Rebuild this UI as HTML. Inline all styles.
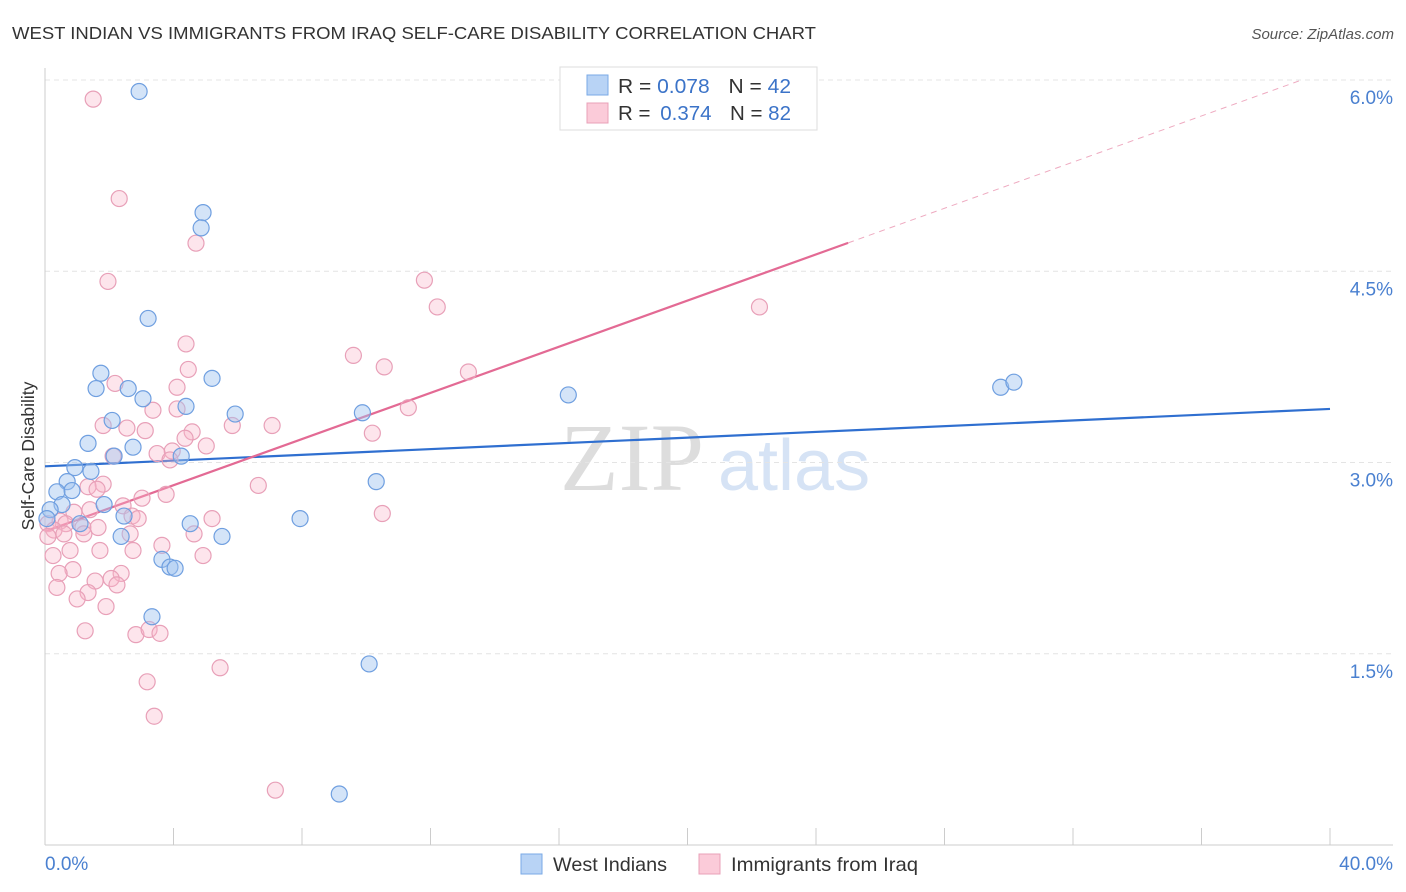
<!DOCTYPE html>
<html><head><meta charset="utf-8"><style>
body{margin:0;background:#fff;font-family:"Liberation Sans",sans-serif;}
svg{display:block}
</style></head><body>
<svg id="chart" width="1406" height="892">
<text x="12" y="39" font-size="17.5" fill="#333" textLength="804" lengthAdjust="spacingAndGlyphs">WEST INDIAN VS IMMIGRANTS FROM IRAQ SELF-CARE DISABILITY CORRELATION CHART</text>
<text x="1394" y="39" font-size="15" fill="#555" font-style="italic" text-anchor="end">Source: ZipAtlas.com</text>
<text x="560" y="490" font-size="96" fill="#ddd" font-family="Liberation Serif,serif">ZIP</text>
<text x="718" y="490" font-size="72" fill="#d6e3f5">atlas</text>
<g id="grid"></g><g id="axes"></g><g id="trend"></g><g id="pts"></g>
<text transform="translate(34,456) rotate(-90)" font-size="17.5" fill="#333" text-anchor="middle">Self-Care Disability</text>
<g>
<rect x="560" y="67" width="257" height="63" fill="#fff" stroke="#ddd"/>
<rect x="587" y="75" width="21" height="20" fill="#b8d3f5" stroke="#7aa9e6"/>
<rect x="587" y="103" width="21" height="20" fill="#fbcbd9" stroke="#e8a0b8"/>
<text x="618" y="93" font-size="20" fill="#333" textLength="173" lengthAdjust="spacingAndGlyphs">R = <tspan fill="#3b73c8">0.078</tspan><tspan dx="18">N = </tspan><tspan fill="#3b73c8">42</tspan></text>
<text x="618" y="120" font-size="20" fill="#333" textLength="173" lengthAdjust="spacingAndGlyphs">R = <tspan fill="#3b73c8" dx="4">0.374</tspan><tspan dx="18">N = </tspan><tspan fill="#3b73c8">82</tspan></text>
</g>
<g>
<rect x="521" y="854" width="21" height="20" fill="#b8d3f5" stroke="#7aa9e6"/>
<text x="553" y="871" font-size="19.5" fill="#333" textLength="114" lengthAdjust="spacingAndGlyphs">West Indians</text>
<rect x="699" y="854" width="21" height="20" fill="#fbcbd9" stroke="#e8a0b8"/>
<text x="731" y="871" font-size="19.5" fill="#333" textLength="187" lengthAdjust="spacingAndGlyphs">Immigrants from Iraq</text>
</g>
</svg>
<script>
const yTicks=[1.5,3.0,4.5,6.0];
const yTickLabels=["1.5%","3.0%","4.5%","6.0%"];
const xTickCount=10;
const blueX=[2.93,4.92,4.86,3.21,1.74,5.20,1.59,2.59,3.05,4.39,5.92,2.09,1.34,2.74,2.15,4.24,0.93,1.43,0.69,0.84,0.37,0.53,1.84,0.16,0.06,2.46,1.09,4.52,2.37,5.51,3.64,3.89,4.05,3.33,9.88,10.31,7.94,10.09,9.16,16.29,29.75,30.16];
const blueY=[5.91,4.96,4.84,4.13,3.70,3.66,3.58,3.58,3.50,3.44,3.38,3.33,3.15,3.12,3.05,3.05,2.96,2.93,2.85,2.78,2.77,2.67,2.67,2.63,2.56,2.58,2.52,2.52,2.42,2.42,2.24,2.18,2.17,1.79,3.39,2.85,2.56,1.42,0.40,3.53,3.59,3.63];
const pinkX=[1.50,2.31,4.70,1.96,11.81,12.21,22.24,4.39,9.60,10.56,4.46,13.18,2.18,4.11,11.31,3.36,4.11,1.81,5.83,7.07,2.55,3.12,4.58,10.19,4.36,5.02,3.96,3.49,2.12,3.89,6.64,1.81,1.34,1.62,3.77,3.02,2.43,1.40,0.90,10.50,2.71,2.90,5.20,0.47,0.65,0.09,1.18,1.65,0.28,0.59,2.65,1.21,4.64,0.09,0.78,1.71,2.74,3.64,4.92,0.25,0.87,2.37,0.44,2.06,1.56,2.24,0.37,1.34,1.00,1.90,1.25,2.83,3.24,3.58,5.45,3.18,3.40,7.17];
const pinkY=[5.85,5.07,4.72,4.42,4.43,4.22,4.22,3.93,3.84,3.75,3.73,3.71,3.62,3.59,3.43,3.41,3.42,3.29,3.29,3.29,3.27,3.25,3.24,3.23,3.19,3.13,3.09,3.07,3.05,3.02,2.82,2.83,2.81,2.79,2.75,2.72,2.66,2.63,2.61,2.60,2.58,2.56,2.56,2.54,2.52,2.52,2.49,2.49,2.47,2.44,2.44,2.44,2.44,2.42,2.31,2.31,2.31,2.35,2.27,2.27,2.16,2.13,2.13,2.09,2.07,2.04,2.02,1.98,1.93,1.87,1.68,1.65,1.69,1.66,1.39,1.28,1.01,0.43];
const blueTrend=[2.97,3.42];
const pinkTrend=[2.46,6.08];
const pinkSolidEnd=25.0;

const NS="http://www.w3.org/2000/svg";
const X0=45,X1=1330,Y0=845,PPY=127.5;
const sx=v=>X0+v/40*(X1-X0);
const sy=v=>Y0-v*PPY;
function mk(parent,tag,attrs){const e=document.createElementNS(NS,tag);for(const k in attrs)e.setAttribute(k,attrs[k]);document.getElementById(parent).appendChild(e);return e;}
mk('grid','line',{x1:X0,x2:1393,y1:80,y2:80,stroke:'#e4e4e4','stroke-dasharray':'5,4'});
yTicks.forEach((t,i)=>{
 const l=mk('grid','line',{x1:X0,x2:1393,y1:sy(t),y2:sy(t),stroke:'#e4e4e4','stroke-dasharray':'5,4'});
 
 
 const tx=mk('grid','text',{x:1393,y:sy(t)+24,'font-size':19,fill:'#4a80d0','text-anchor':'end'});
 tx.textContent=yTickLabels[i];
 
 
});
mk('axes','line',{x1:X0,x2:X0,y1:68,y2:Y0,stroke:'#ccc'});
mk('axes','line',{x1:X0,x2:1393,y1:Y0,y2:Y0,stroke:'#ccc'});
for(let i=1;i<=xTickCount;i++){const x=sx(i*4);
 const t=mk('axes','line',{x1:x,x2:x,y1:Y0,y2:828,stroke:'#ccc'});
 
 
}
const xl=mk('axes','text',{x:45,y:870,'font-size':19,fill:'#4a80d0'});xl.textContent='0.0%';


const xr=mk('axes','text',{x:1393,y:870,'font-size':19,fill:'#4a80d0','text-anchor':'end'});xr.textContent='40.0%';


function pt(xs,ys,fill,stroke,name){xs.forEach((x,i)=>{
 const c=mk('pts','circle',{cx:sx(x),cy:sy(ys[i]),r:8,fill:fill,stroke:stroke,'stroke-width':1.2});
 
 
});}
pt(pinkX,pinkY,'rgba(248,180,200,0.35)','#e8a0b8','iraq-point');
pt(blueX,blueY,'rgba(160,195,240,0.45)','#6f9fe0','west-indian-point');
const pf=x=>pinkTrend[0]+(pinkTrend[1]-pinkTrend[0])*x/40;
const bl=mk('trend','line',{x1:sx(0),y1:sy(blueTrend[0]),x2:sx(40),y2:sy(blueTrend[1]),stroke:'#2f6fd0','stroke-width':2.2});


const pl=mk('trend','line',{x1:sx(0),y1:sy(pf(0)),x2:sx(pinkSolidEnd),y2:sy(pf(pinkSolidEnd)),stroke:'#e36a94','stroke-width':2.2});


const xe=39.1;
const pd=mk('trend','line',{x1:sx(pinkSolidEnd),y1:sy(pf(pinkSolidEnd)),x2:sx(xe),y2:sy(pf(xe)),stroke:'#eeaac0','stroke-width':1,'stroke-dasharray':'6,5'});


</script>
</body></html>
